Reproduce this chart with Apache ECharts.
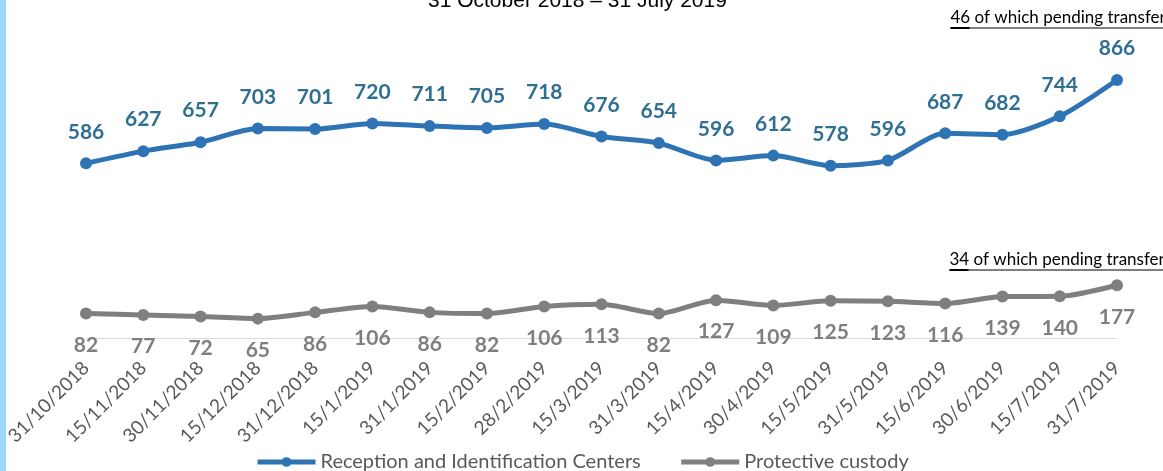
<!DOCTYPE html>
<html>
<head>
<meta charset="utf-8">
<script src="https://cdn.jsdelivr.net/npm/echarts@6/dist/echarts.min.js"></script>
<style>
  html, body { margin: 0; padding: 0; background: #fff; }
  #chart { width: 1163px; height: 471px; }
</style>
</head>
<body>
<div id="chart"></div>
<script>
// Reception centres vs protective custody, fortnightly snapshots.
const dates = [
  '31/10/2018', '15/11/2018', '30/11/2018', '15/12/2018', '31/12/2018',
  '15/1/2019', '31/1/2019', '15/2/2019', '28/2/2019', '15/3/2019',
  '31/3/2019', '15/4/2019', '30/4/2019', '15/5/2019', '31/5/2019',
  '15/6/2019', '30/6/2019', '15/7/2019', '31/7/2019',
];
const receptionCenters = [586, 627, 657, 703, 701, 720, 711, 705, 718, 676, 654, 596, 612, 578, 596, 687, 682, 744, 866];
const protectiveCustody = [82, 77, 72, 65, 86, 106, 86, 82, 106, 113, 82, 127, 109, 125, 123, 116, 139, 140, 177];
const seriesNames = ['Reception and Identification Centers', 'Protective custody'];
const titleText = '31 October 2018 – 31 July 2019';
const pendingNotes = ['46 of which pending transfer', '34 of which pending transfer'];

const BLUE = '#2E74B5';
const BLUE_LABEL = '#2F6F94';
const GREY = '#7F7F7F';
const FONT = 'Lato, "Open Sans", sans-serif';

// underlined note = text + a rule beneath it (number part drawn heavier)
function note(x, y, text) {
  return {
    type: 'group',
    left: x,
    top: y,
    children: [
      { type: 'text', style: { text, x: 0, y: 0, font: '17px ' + FONT, fill: '#000' } },
      { type: 'line', shape: { x1: 0, y1: 19, x2: 240, y2: 19 }, style: { stroke: '#000', lineWidth: 1 } },
      { type: 'line', shape: { x1: 0, y1: 19, x2: 19, y2: 19 }, style: { stroke: '#000', lineWidth: 2 } },
    ],
  };
}

const chart = echarts.init(document.getElementById('chart'));
chart.setOption({
  backgroundColor: '#fff',
  animation: false,
  title: {
    text: titleText,
    left: 423,
    top: -14,
    textStyle: { fontFamily: '"Liberation Sans", Arial, sans-serif', fontSize: 21, fontWeight: 'normal', color: '#000' },
  },
  graphic: [
    { type: 'rect', left: 0, top: 0, shape: { width: 6, height: 471 }, style: { fill: '#9DD8FA' } },
    note(948, 9, pendingNotes[0]),
    note(947, 251, pendingNotes[1]),
  ],
  grid: { left: 86, right: 46, top: 40, bottom: 133, containLabel: false },
  legend: {
    bottom: -6,
    left: 250,
    itemWidth: 58,
    itemHeight: 12,
    itemGap: 38,
    lineStyle: { width: 5 },
    textStyle: { fontFamily: FONT, fontSize: 20, color: '#595959' },
    data: seriesNames,
  },
  xAxis: {
    type: 'category',
    data: dates,
    boundaryGap: false,
    axisLine: { lineStyle: { color: '#D9D9D9', width: 1 } },
    axisTick: { show: false },
    axisLabel: { rotate: 45, margin: 27, fontFamily: FONT, fontSize: 19, color: '#595959', interval: 0 },
  },
  yAxis: {
    type: 'value',
    min: 0,
    max: 1000,
    show: false,
    splitLine: { show: false },
  },
  series: [
    {
      name: seriesNames[0],
      type: 'line',
      data: receptionCenters,
      smooth: 0.25,
      symbol: 'circle',
      symbolSize: 12,
      itemStyle: { color: BLUE },
      lineStyle: { color: BLUE, width: 5 },
      label: {
        show: true,
        position: 'top',
        distance: 15,
        fontFamily: FONT,
        fontWeight: 'bold',
        fontSize: 21,
        color: BLUE_LABEL,
      },
    },
    {
      name: seriesNames[1],
      type: 'line',
      data: protectiveCustody,
      smooth: 0.25,
      symbol: 'circle',
      symbolSize: 12,
      itemStyle: { color: GREY },
      lineStyle: { color: GREY, width: 5 },
      label: {
        show: true,
        position: 'bottom',
        distance: 15,
        fontFamily: FONT,
        fontWeight: 'bold',
        fontSize: 21,
        color: GREY,
      },
    },
  ],
});
</script>
</body>
</html>
